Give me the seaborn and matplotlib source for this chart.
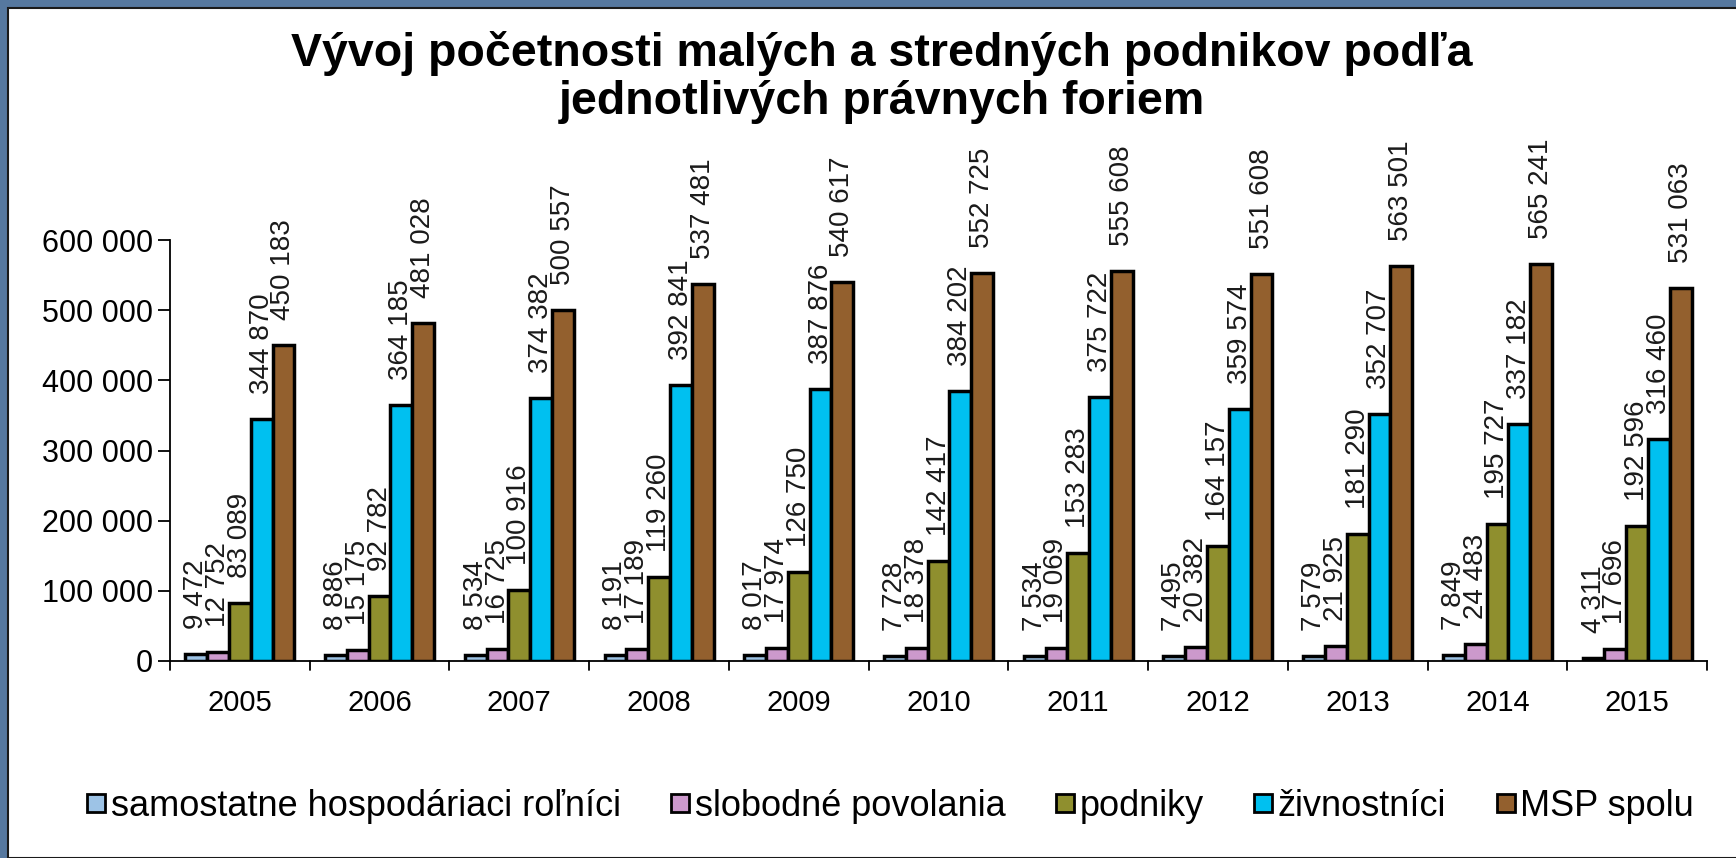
import pandas as pd
import seaborn as sns
import matplotlib.pyplot as plt
from matplotlib.patches import Rectangle
from matplotlib.lines import Line2D

# data
years = ['2005', '2006', '2007', '2008', '2009', '2010', '2011', '2012', '2013', '2014', '2015']
series = ['samostatne hospodáriaci roľníci', 'slobodné povolania', 'podniky', 'živnostníci', 'MSP spolu']
rolnici = [9472, 8886, 8534, 8191, 8017, 7728, 7534, 7495, 7579, 7849, 4311]
slobodne = [12752, 15175, 16725, 17189, 17974, 18378, 19069, 20382, 21925, 24483, 17696]
podniky = [83089, 92782, 100916, 119260, 126750, 142417, 153283, 164157, 181290, 195727, 192596]
zivnostnici = [344870, 364185, 374382, 392841, 387876, 384202, 375722, 359574, 352707, 337182, 316460]
msp_spolu = [450183, 481028, 500557, 537481, 540617, 552725, 555608, 551608, 563501, 565241, 531063]
colors = ['#9dc3e6', '#cc99cc', '#8f8f2e', '#00c0f0', '#93602e']

rows = []
for name, vals in zip(series, [rolnici, slobodne, podniky, zivnostnici, msp_spolu]):
    for y, v in zip(years, vals):
        rows.append({'rok': y, 'forma': name, 'pocet': v})
df = pd.DataFrame(rows)


def fmt(v):
    return f"{int(v):,}".replace(",", " ")


sns.set_style('white')
plt.rcParams['font.family'] = ['Liberation Sans', 'DejaVu Sans']
plt.rcParams['text.color'] = 'black'
plt.rcParams['xtick.color'] = 'black'
plt.rcParams['ytick.color'] = 'black'

fig = plt.figure(figsize=(17.36, 8.58), dpi=100)
fig.patch.set_facecolor('#56789f')
# white slide area (blue frame only on top and left)
fig.patches.append(Rectangle((8 / 1736, 0), 1, 1 - 8 / 858, transform=fig.transFigure,
                             facecolor='white', edgecolor='#1a1a1a', linewidth=1.5, zorder=-10))

ax = fig.add_axes([170 / 1736, 1 - 661 / 858, (1707 - 170) / 1736, (661 - 240) / 858])
ax.set_facecolor('none')
ax.set_zorder(2)

sns.barplot(data=df, x='rok', y='pocet', hue='forma', hue_order=series, palette=colors,
            width=0.78, edgecolor='black', linewidth=2.5, saturation=1, ax=ax, legend=False)

# value labels above bars (they overlap for the small bars, as in the original)
for cont in ax.containers:
    ax.bar_label(cont, labels=[fmt(b.get_height()) for b in cont], rotation=90,
                 padding=18, fontsize=20, color='#1a1a1a')

ax.set_ylim(0, 600000)
ax.set_xlim(-0.5, len(years) - 0.5)
ax.set_yticks(range(0, 600001, 100000))
ax.set_yticklabels([fmt(v) for v in range(0, 600001, 100000)], fontsize=22)
ax.set_xticks(range(len(years)))
ax.set_xticklabels(years, fontsize=21)
ax.tick_params(axis='x', length=0, pad=20)
ax.tick_params(axis='y', length=9, width=1.3, direction='out', left=True, pad=3)
# category boundary ticks
for b in range(len(years) + 1):
    ax.plot([b - 0.5, b - 0.5], [0, -0.022], color='black', lw=1.3,
            transform=ax.get_xaxis_transform(), clip_on=False)
ax.set_xlabel('')
ax.set_ylabel('')
sns.despine(ax=ax, top=True, right=True)
for s in ['left', 'bottom']:
    ax.spines[s].set_color('black')
    ax.spines[s].set_linewidth(1.3)

fig.text(0.508, 0.91, 'Vývoj početnosti malých a stredných podnikov podľa\njednotlivých právnych foriem',
         ha='center', va='center', fontsize=33.5, fontweight='bold', linespacing=1.12)

handles = [Line2D([], [], marker='s', linestyle='none', markersize=13, markerfacecolor=c,
                  markeredgecolor='black', markeredgewidth=2) for c in colors]
fig.legend(handles, series, loc='center', bbox_to_anchor=(0.512, 0.06), ncol=5, frameon=False,
           fontsize=26, handletextpad=0.05, columnspacing=1.3, handlelength=0.7)

fig.savefig('out.png', dpi=100, facecolor=fig.get_facecolor())
